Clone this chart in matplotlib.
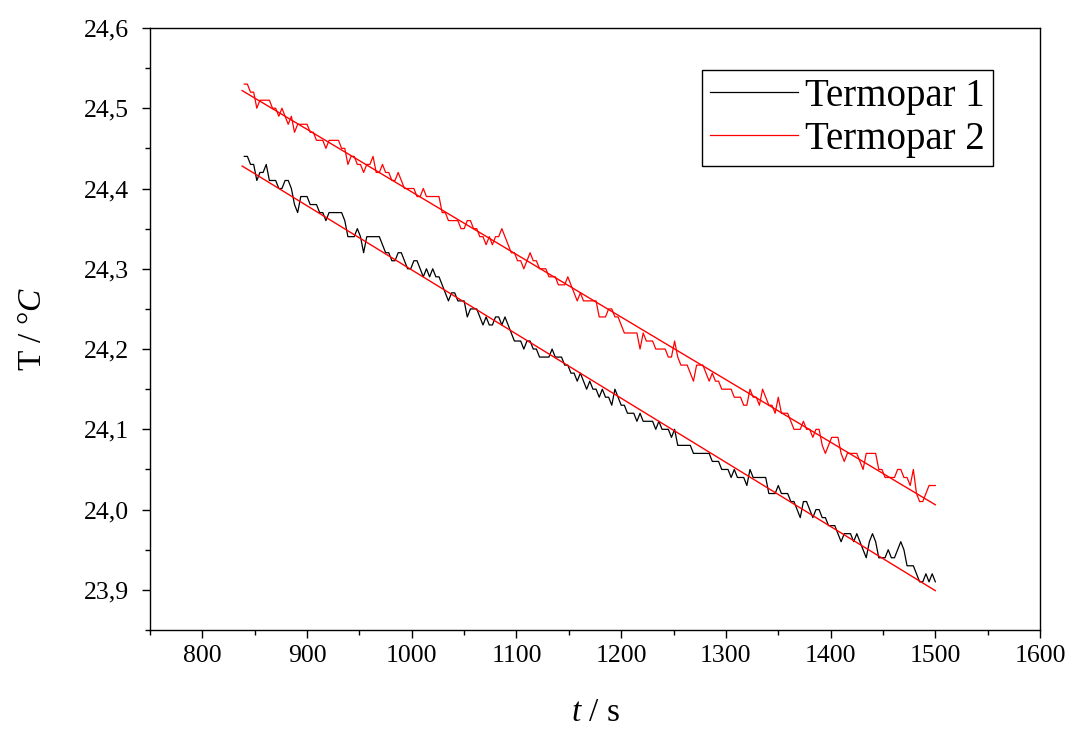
import numpy as np
import matplotlib
matplotlib.use("Agg")
import matplotlib.pyplot as plt
from matplotlib.ticker import MultipleLocator, FuncFormatter

# ---- data ----
t_start, t_end, t_step = 840, 1500, 3
time_s = np.arange(t_start, t_end + 1, t_step)

termopar1 = [
    24.44, 24.44, 24.43, 24.43, 24.41, 24.42, 24.42, 24.43, 24.41, 24.41,
    24.41, 24.40, 24.40, 24.41, 24.41, 24.40, 24.38, 24.37, 24.39, 24.39,
    24.39, 24.38, 24.38, 24.38, 24.37, 24.37, 24.36, 24.37, 24.37, 24.37,
    24.37, 24.37, 24.36, 24.34, 24.34, 24.34, 24.35, 24.34, 24.32, 24.34,
    24.34, 24.34, 24.34, 24.34, 24.33, 24.32, 24.32, 24.31, 24.31, 24.32,
    24.32, 24.31, 24.30, 24.30, 24.31, 24.31, 24.30, 24.29, 24.30, 24.29,
    24.30, 24.29, 24.29, 24.28, 24.27, 24.26, 24.27, 24.27, 24.26, 24.26,
    24.26, 24.24, 24.25, 24.25, 24.25, 24.24, 24.23, 24.24, 24.23, 24.23,
    24.24, 24.24, 24.23, 24.24, 24.23, 24.22, 24.21, 24.21, 24.21, 24.20,
    24.21, 24.21, 24.20, 24.20, 24.19, 24.19, 24.19, 24.19, 24.20, 24.19,
    24.19, 24.19, 24.18, 24.18, 24.17, 24.17, 24.16, 24.17, 24.16, 24.15,
    24.16, 24.15, 24.15, 24.14, 24.15, 24.14, 24.14, 24.13, 24.15, 24.14,
    24.13, 24.13, 24.12, 24.12, 24.12, 24.11, 24.12, 24.11, 24.11, 24.11,
    24.11, 24.10, 24.11, 24.10, 24.10, 24.10, 24.09, 24.10, 24.08, 24.08,
    24.08, 24.08, 24.08, 24.07, 24.07, 24.07, 24.07, 24.07, 24.07, 24.06,
    24.06, 24.06, 24.05, 24.05, 24.05, 24.04, 24.05, 24.04, 24.04, 24.04,
    24.03, 24.05, 24.04, 24.04, 24.04, 24.04, 24.04, 24.02, 24.02, 24.02,
    24.03, 24.02, 24.02, 24.02, 24.01, 24.01, 24.00, 23.99, 24.01, 24.01,
    24.00, 23.99, 24.00, 24.00, 23.99, 23.99, 23.98, 23.98, 23.98, 23.97,
    23.96, 23.97, 23.97, 23.97, 23.96, 23.97, 23.96, 23.95, 23.94, 23.96,
    23.97, 23.96, 23.94, 23.94, 23.94, 23.95, 23.94, 23.94, 23.95, 23.96,
    23.95, 23.93, 23.93, 23.93, 23.92, 23.91, 23.91, 23.92, 23.91, 23.92,
    23.91,
]

termopar2 = [
    24.53, 24.53, 24.52, 24.52, 24.50, 24.51, 24.51, 24.51, 24.51, 24.50,
    24.50, 24.49, 24.50, 24.49, 24.48, 24.49, 24.47, 24.48, 24.48, 24.48,
    24.48, 24.47, 24.47, 24.46, 24.46, 24.46, 24.45, 24.46, 24.46, 24.46,
    24.46, 24.45, 24.45, 24.43, 24.44, 24.44, 24.43, 24.43, 24.42, 24.43,
    24.43, 24.44, 24.42, 24.42, 24.43, 24.42, 24.42, 24.41, 24.41, 24.42,
    24.41, 24.40, 24.40, 24.40, 24.40, 24.39, 24.39, 24.40, 24.39, 24.39,
    24.39, 24.39, 24.39, 24.37, 24.37, 24.36, 24.36, 24.36, 24.36, 24.35,
    24.35, 24.36, 24.36, 24.35, 24.35, 24.34, 24.34, 24.33, 24.34, 24.33,
    24.34, 24.34, 24.35, 24.34, 24.33, 24.32, 24.32, 24.31, 24.31, 24.30,
    24.31, 24.32, 24.31, 24.31, 24.30, 24.30, 24.30, 24.29, 24.29, 24.29,
    24.28, 24.28, 24.28, 24.29, 24.28, 24.27, 24.26, 24.27, 24.26, 24.26,
    24.26, 24.26, 24.26, 24.24, 24.24, 24.24, 24.25, 24.25, 24.24, 24.24,
    24.23, 24.22, 24.22, 24.22, 24.22, 24.22, 24.20, 24.22, 24.21, 24.21,
    24.21, 24.20, 24.20, 24.20, 24.20, 24.19, 24.19, 24.21, 24.19, 24.18,
    24.18, 24.18, 24.17, 24.16, 24.18, 24.18, 24.18, 24.17, 24.16, 24.17,
    24.16, 24.16, 24.15, 24.15, 24.15, 24.15, 24.14, 24.14, 24.14, 24.13,
    24.13, 24.15, 24.14, 24.14, 24.13, 24.15, 24.14, 24.13, 24.13, 24.12,
    24.14, 24.12, 24.12, 24.12, 24.11, 24.10, 24.10, 24.10, 24.11, 24.10,
    24.10, 24.09, 24.10, 24.10, 24.08, 24.07, 24.08, 24.09, 24.09, 24.09,
    24.07, 24.06, 24.07, 24.07, 24.07, 24.07, 24.06, 24.05, 24.07, 24.07,
    24.07, 24.07, 24.05, 24.05, 24.04, 24.04, 24.04, 24.04, 24.05, 24.05,
    24.04, 24.04, 24.03, 24.05, 24.02, 24.01, 24.01, 24.02, 24.03, 24.03,
    24.03,
]

# linear fits as drawn in the reference (end points)
fit_time = [838, 1500]
fit1 = [24.428, 23.899]
fit2 = [24.522, 24.006]

series_labels = ["Termopar 1", "Termopar 2"]
x_ticks = [800, 900, 1000, 1100, 1200, 1300, 1400, 1500, 1600]
y_ticks = [23.9, 24.0, 24.1, 24.2, 24.3, 24.4, 24.5, 24.6]

# ---- style ----
plt.rcParams["font.family"] = ["Liberation Serif", "DejaVu Serif"]
plt.rcParams["mathtext.fontset"] = "custom"
plt.rcParams["mathtext.rm"] = "Liberation Serif"
plt.rcParams["mathtext.it"] = "Liberation Serif:italic"

fig = plt.figure(figsize=(10.7, 7.34), dpi=100)
ax = fig.add_axes([0.1402, 0.1417, 0.8318, 0.8202])

ax.plot(time_s, termopar1, color="black", lw=0.9, label=series_labels[0])
ax.plot(time_s, termopar2, color="red", lw=0.9, label=series_labels[1])
ax.plot(fit_time, fit1, color="red", lw=1.0)
ax.plot(fit_time, fit2, color="red", lw=1.0)

ax.set_xlim(750, 1600)
ax.set_ylim(23.85, 24.6)
ax.set_xticks(x_ticks)
ax.set_yticks(y_ticks)
ax.xaxis.set_minor_locator(MultipleLocator(50))
ax.yaxis.set_minor_locator(MultipleLocator(0.05))
ax.yaxis.set_major_formatter(FuncFormatter(lambda v, p: f"{v:.1f}".replace(".", ",")))
ax.tick_params(axis="both", which="major", direction="out", length=6, width=1,
               labelsize=18.5, top=False, right=False)
ax.tick_params(axis="y", which="major", pad=9)
ax.tick_params(axis="x", which="major", pad=5)
ax.tick_params(axis="both", which="minor", direction="out", length=3.5, width=1,
               top=False, right=False)
for s in ax.spines.values():
    s.set_linewidth(1.0)

ax.set_xlabel(r"$t$ / s", fontsize=24, labelpad=22)
ax.set_ylabel(r"T / °$C$", fontsize=24, labelpad=26)

leg = ax.legend(loc="upper right", bbox_to_anchor=(0.947, 0.930), borderaxespad=0,
                fontsize=28, fancybox=False, edgecolor="black", framealpha=1,
                handlelength=2.25, handletextpad=0.2, borderpad=0.2,
                labelspacing=0.16, handleheight=0.7)
leg.get_frame().set_linewidth(1.0)

fig.savefig("out.png", dpi=100)
